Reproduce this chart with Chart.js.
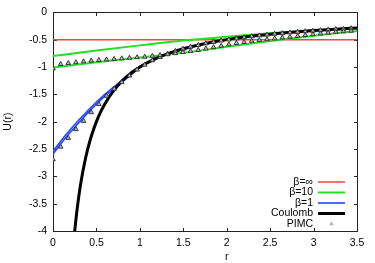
<!DOCTYPE html>
<html>
<head>
<meta charset="utf-8">
<script src="https://cdn.jsdelivr.net/npm/chart.js@4.4.0/dist/chart.umd.min.js"></script>
<style>
  html, body { margin: 0; padding: 0; background: #fff; }
</style>
</head>
<body>
<canvas id="chart" width="375" height="263"></canvas>
<script>
// grid used by the straight-ish lines
const R_LINE = [0, 0.5, 1, 1.5, 2, 2.5, 3, 3.5];
const BETA_INF = [-0.5, -0.5, -0.5, -0.5, -0.5, -0.5, -0.5, -0.5];
const BETA10_UPPER = [-0.80, -0.70, -0.605, -0.515, -0.445, -0.385, -0.335, -0.29];
const BETA10_LOWER = [-1.01, -0.915, -0.825, -0.74, -0.63, -0.525, -0.43, -0.34];

// beta=1 is drawn as two close curves
const R_BETA1 = [0, 0.1, 0.2, 0.3, 0.4, 0.5, 0.6, 0.7, 0.8, 0.9, 1.0, 1.2, 1.4, 1.6, 1.8, 2.0, 2.5, 3.0, 3.5];
const BETA1_A = [-2.545, -2.335, -2.145, -1.965, -1.80, -1.64, -1.495, -1.365, -1.235, -1.117, -0.99, -0.83, -0.717, -0.628, -0.556, -0.5, -0.4, -0.333, -0.286];
const BETA1_B = [-2.595, -2.385, -2.195, -2.015, -1.84, -1.68, -1.53, -1.395, -1.265, -1.143, -1.01, -0.84, -0.723, -0.632, -0.559, -0.502, -0.401, -0.334, -0.286];

const R_COULOMB = [0.24, 0.25, 0.27, 0.3, 0.33, 0.36, 0.4, 0.45, 0.5, 0.55, 0.6, 0.7, 0.8, 0.9, 1.0, 1.2, 1.4, 1.6, 1.8, 2.0, 2.25, 2.5, 2.75, 3.0, 3.25, 3.5];
const COULOMB = [-4.167, -4, -3.704, -3.333, -3.03, -2.778, -2.5, -2.222, -2, -1.818, -1.667, -1.429, -1.25, -1.111, -1, -0.833, -0.714, -0.625, -0.556, -0.5, -0.444, -0.4, -0.364, -0.333, -0.308, -0.286];

// PIMC samples
const R_PIMC = [0, 0.088, 0.176, 0.264, 0.352, 0.44, 0.528, 0.616, 0.704, 0.792,
  0.88, 0.968, 1.056, 1.144, 1.232, 1.32, 1.408, 1.496, 1.584, 1.672,
  1.76, 1.848, 1.936, 2.024, 2.112, 2.2, 2.288, 2.376, 2.464, 2.552,
  2.64, 2.728, 2.816, 2.904, 2.992, 3.08, 3.168, 3.256, 3.344, 3.432];
const PIMC_BETA10 = [-1.03, -0.95, -0.93, -0.915, -0.90, -0.885, -0.875, -0.865, -0.855, -0.845,
  -0.835, -0.825, -0.815, -0.80, -0.785, -0.77, -0.75, -0.73, -0.71, -0.69,
  -0.665, -0.64, -0.615, -0.59, -0.565, -0.545, -0.525, -0.51, -0.495, -0.48,
  -0.465, -0.45, -0.435, -0.42, -0.405, -0.39, -0.375, -0.36, -0.35, -0.34];
const PIMC_BETA1 = [-2.69, -2.46, -2.30, -2.14, -1.99, -1.83, -1.68, -1.53, -1.40, -1.28,
  -1.16, -1.05, -0.96, -0.88, -0.82, -0.76, -0.71, -0.67, -0.63, -0.60,
  -0.57, -0.545, -0.52, -0.50, -0.48, -0.46, -0.44, -0.425, -0.41, -0.395,
  -0.385, -0.37, -0.36, -0.35, -0.34, -0.33, -0.32, -0.31, -0.305, -0.295];

const FONT = { family: '"Liberation Sans", Arial, sans-serif', size: 10.5 };

const pts = (xs, ys) => xs.map((x, i) => ({ x, y: ys[i] }));
const plainNum = v => String(Math.round(v * 100) / 100);

function lineSet(label, xs, ys, color, width, order) {
  return {
    label, data: pts(xs, ys), showLine: true, borderColor: color, backgroundColor: color,
    borderWidth: width, pointRadius: 0, cubicInterpolationMode: 'monotone', order,
  };
}

function pimcSet(label, ys) {
  return {
    label, data: pts(R_PIMC, ys), showLine: false, pointStyle: 'triangle',
    pointRadius: 2.7, borderWidth: 0.9, borderColor: '#2a2a2a', backgroundColor: '#b4b4b4', order: 0,
  };
}

const datasets = [
  lineSet('β=∞', R_LINE, BETA_INF, '#f04a32', 1.5, 6),
  lineSet('β=10', R_LINE, BETA10_UPPER, '#22e022', 2, 5),
  lineSet('', R_LINE, BETA10_LOWER, '#22e022', 2, 5),
  lineSet('β=1', R_BETA1, BETA1_A, '#2448ff', 1.6, 4),
  lineSet('', R_BETA1, BETA1_B, '#2448ff', 1.6, 4),
  lineSet('Coulomb', R_COULOMB, COULOMB, '#000', 3, 2),
  pimcSet('PIMC', PIMC_BETA10),
  pimcSet('', PIMC_BETA1),
];

// gnuplot-like box with inward ticks, labels and key
const gnuStyle = {
  id: 'gnuStyle',
  beforeDatasetsDraw(chart) {
    const { ctx, chartArea: a, scales: { x, y } } = chart;
    ctx.save();
    ctx.strokeStyle = '#222';
    ctx.lineWidth = 1;
    const L = Math.round(a.left) + 0.5, R = Math.round(a.right) + 0.5;
    const T = Math.round(a.top) + 0.5, B = Math.round(a.bottom) + 0.5;
    ctx.strokeRect(L, T, R - L, B - T);
    ctx.beginPath();
    x.ticks.forEach(t => {
      const px = Math.round(x.getPixelForValue(t.value)) + 0.5;
      ctx.moveTo(px, B); ctx.lineTo(px, B - 3.5);
      ctx.moveTo(px, T); ctx.lineTo(px, T + 3.5);
    });
    y.ticks.forEach(t => {
      const py = Math.round(y.getPixelForValue(t.value)) + 0.5;
      ctx.moveTo(L, py); ctx.lineTo(L + 3.5, py);
      ctx.moveTo(R, py); ctx.lineTo(R - 3.5, py);
    });
    ctx.stroke();

    // axis titles
    ctx.fillStyle = '#000';
    ctx.font = `${FONT.size}px ${FONT.family}`;
    ctx.textAlign = 'center';
    ctx.textBaseline = 'middle';
    ctx.fillText('r', x.getPixelForValue(2), 257);
    ctx.translate(8, (a.top + a.bottom) / 2);
    ctx.rotate(-Math.PI / 2);
    ctx.fillText('U(r)', 0, 0);
    ctx.restore();
  },
  afterDraw(chart) {
    const { ctx, chartArea: a } = chart;
    const items = chart.data.datasets.filter(d => d.label);
    ctx.save();
    ctx.font = `${FONT.size}px ${FONT.family}`;
    ctx.textAlign = 'right';
    ctx.textBaseline = 'middle';
    items.forEach((d, i) => {
      const yy = a.bottom - 49 + i * 10.5;
      ctx.fillStyle = '#000';
      ctx.fillText(d.label, a.right - 44, yy);
      if (d.showLine) {
        ctx.strokeStyle = d.borderColor;
        ctx.lineWidth = d.borderWidth;
        ctx.beginPath();
        ctx.moveTo(a.right - 39, yy);
        ctx.lineTo(a.right - 12, yy);
        ctx.stroke();
      } else {
        ctx.fillStyle = d.backgroundColor;
        ctx.strokeStyle = d.borderColor;
        ctx.lineWidth = d.borderWidth;
        Chart.helpers.drawPoint(ctx, { pointStyle: 'triangle', radius: d.pointRadius, rotation: 0 }, a.right - 25.5, yy);
      }
    });
    ctx.restore();
  },
};

new Chart(document.getElementById('chart'), {
  type: 'scatter',
  data: { datasets },
  plugins: [gnuStyle],
  options: {
    responsive: false,
    animation: false,
    layout: { padding: { left: 0, right: 18, top: 12, bottom: 0 } },
    plugins: { legend: { display: false }, tooltip: { enabled: false } },
    scales: {
      x: {
        type: 'linear', min: 0, max: 3.5,
        ticks: { stepSize: 0.5, font: FONT, color: '#000', padding: 6, maxRotation: 0, callback: plainNum },
        grid: { display: false, drawTicks: false },
        border: { display: false },
        afterFit: s => { s.height = 32; },
      },
      y: {
        type: 'linear', min: -4, max: 0,
        ticks: { stepSize: 0.5, font: FONT, color: '#000', padding: 6, callback: plainNum },
        grid: { display: false, drawTicks: false },
        border: { display: false },
        afterFit: s => { s.width = 53; },
      },
    },
  },
});
</script>
</body>
</html>
